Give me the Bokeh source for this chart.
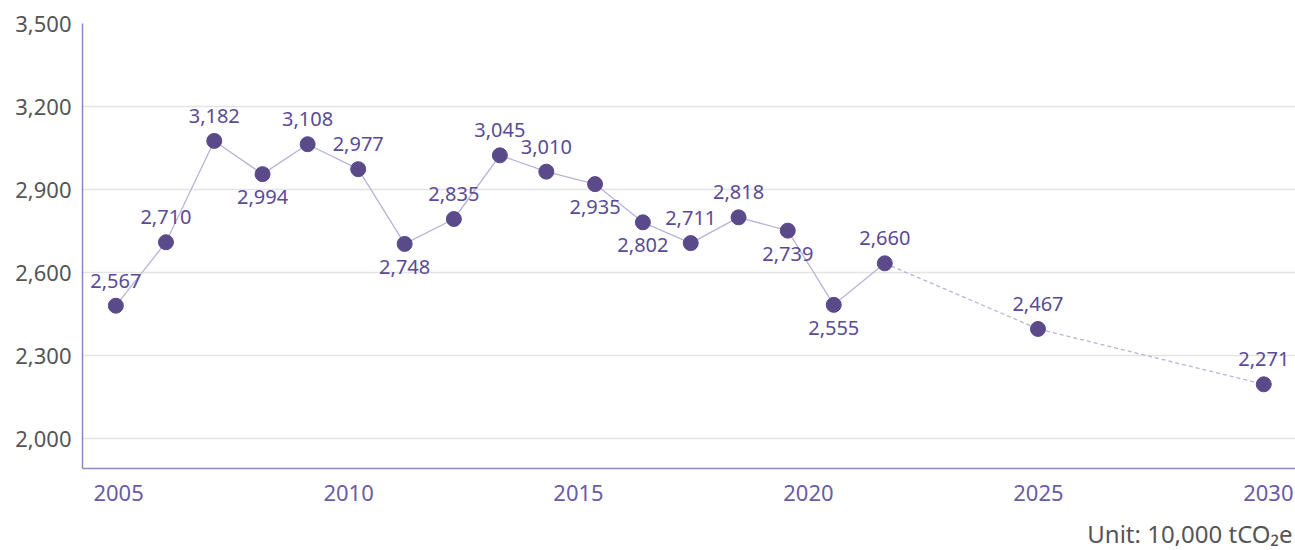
from bokeh.plotting import figure
from bokeh.models import (ColumnDataSource, LabelSet, Label, FixedTicker,
                          NumeralTickFormatter, Range1d)
from bokeh.core.properties import field, value
from bokeh.embed import file_html
from bokeh.resources import INLINE

# ---- data ----
years = [2004.94, 2006.03, 2007.08, 2008.13, 2009.11, 2010.21, 2011.22, 2012.29,
         2013.29, 2014.30, 2015.36, 2016.40, 2017.44, 2018.48, 2019.55, 2020.55,
         2021.66, 2024.99, 2029.90]
values = [2481, 2710, 3076, 2956, 3064, 2974, 2704, 2794, 3024, 2965, 2920, 2782,
          2707, 2800, 2752, 2484, 2634, 2397, 2197]
labels = ["2,567", "2,710", "3,182", "2,994", "3,108", "2,977", "2,748", "2,835",
          "3,045", "3,010", "2,935", "2,802", "2,711", "2,818", "2,739", "2,555",
          "2,660", "2,467", "2,271"]
placement = ["above", "above", "above", "below", "above", "above", "below", "above",
             "above", "above", "below", "below", "above", "above", "below", "below",
             "above", "above", "above"]
n_actual = 17  # points up to 2021 are historical (solid line); the rest projected
x_ticks = [2005, 2010, 2015, 2020, 2025, 2030]
y_ticks = [2000, 2300, 2600, 2900, 3200, 3500]
unit_text = "Unit: 10,000 tCO\u2082e"

# ---- styles ----
FONT = "Noto Sans"
POINT = "#5b4a8a"
LABEL = "#5a4b95"
XTICK = "#6a5ba6"
AXIS = "#8e86c4"
LINE = "#b9b3d9"
GRID = "#e4e4e4"
GRAY = "#555555"

x_range = Range1d(2004.215, 2030.59)
p = figure(width=1295, height=550, output_backend="svg", toolbar_location=None,
           x_range=x_range, y_range=Range1d(1893, 3500),
           min_border_left=82, min_border_right=0, min_border_top=23,
           min_border_bottom=82)
p.outline_line_color = None
p.background_fill_color = "white"
p.border_fill_color = "white"

hist = ColumnDataSource(dict(x=years[:n_actual], y=values[:n_actual]))
proj = ColumnDataSource(dict(x=years[n_actual - 1:], y=values[n_actual - 1:]))
p.line("x", "y", source=hist, line_color=LINE, line_width=1.3)
p.line("x", "y", source=proj, line_color=LINE, line_width=1.3, line_dash="4 3")

pts = ColumnDataSource(dict(
    x=years, y=values, text=labels,
    dy=[25 if pl == "above" else -23 for pl in placement]))
p.scatter("x", "y", source=pts, size=15, fill_color=POINT, line_color=POINT)
p.add_layout(LabelSet(x="x", y="y", text="text", source=pts, y_offset=field("dy"),
                      text_align="center", text_baseline="middle",
                      text_font=value(FONT), text_font_size=value("20px"),
                      text_color=LABEL))

# axes
p.xaxis.ticker = FixedTicker(ticks=x_ticks)
p.yaxis.ticker = FixedTicker(ticks=y_ticks)
p.yaxis.formatter = NumeralTickFormatter(format="0,0")
for ax in (p.xaxis[0], p.yaxis[0]):
    ax.axis_line_color = AXIS
    ax.axis_line_width = 1.5
    ax.major_tick_line_color = None
    ax.minor_tick_line_color = None
    ax.major_label_text_font = FONT
    ax.major_label_text_font_size = "22px"
p.xaxis.major_label_text_color = XTICK
p.yaxis.major_label_text_color = GRAY
p.xaxis.major_label_standoff = 10
p.yaxis.major_label_standoff = 5

p.xgrid.grid_line_color = None
p.ygrid.grid_line_color = GRID
p.ygrid.grid_line_width = 1.3

# unit note under the x axis, right-aligned to the plot edge
p.add_layout(Label(x=x_range.end, x_units="data", y=3, y_units="screen",
                   text=unit_text, text_align="right", text_baseline="middle",
                   x_offset=-3, text_font=FONT, text_font_size="24px",
                   text_color=GRAY), "below")

open("out.html", "w").write(file_html(p, INLINE))
